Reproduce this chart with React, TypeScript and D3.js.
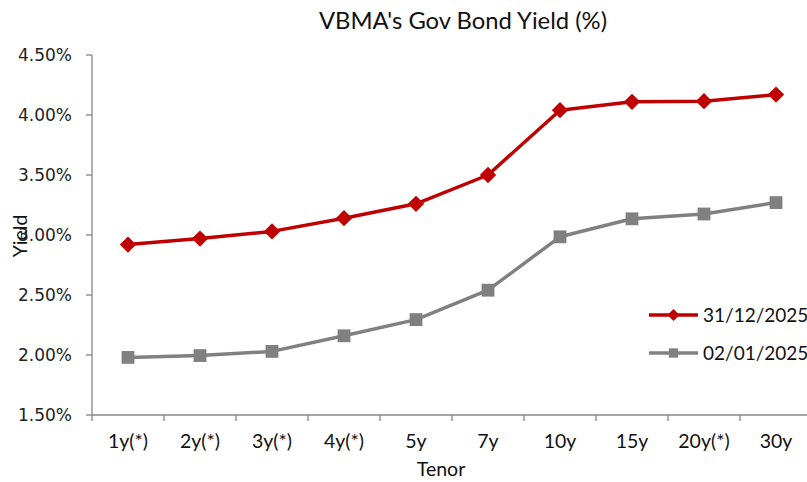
import { useEffect, useRef } from "react";
import * as d3 from "d3";

const tenors = ["1y(*)", "2y(*)", "3y(*)", "4y(*)", "5y", "7y", "10y", "15y", "20y(*)", "30y"];
const yield2025End = [2.92, 2.97, 3.03, 3.14, 3.26, 3.5, 4.04, 4.11, 4.115, 4.17];
const yield2025Start = [1.98, 1.995, 2.03, 2.16, 2.295, 2.54, 2.985, 3.135, 3.175, 3.27];
const yTicks = [1.5, 2.0, 2.5, 3.0, 3.5, 4.0, 4.5];

const series = [
  { name: "31/12/2025", values: yield2025End, color: "#C00000", marker: "diamond" },
  { name: "02/01/2025", values: yield2025Start, color: "#808080", marker: "square" },
];

const W = 807;
const H = 482;
const labelFont = "Lato, 'Open Sans', sans-serif";

export default function App() {
  const ref = useRef<SVGSVGElement>(null);

  useEffect(() => {
    const svg = d3.select(ref.current);
    svg.selectAll("*").remove();

    const left = 92;
    const step = 72;
    // Ось X: полосы по 72px, последняя уходит за край картинки
    const x = d3.scaleBand().domain(tenors).range([left, left + step * tenors.length]);
    const y = d3.scaleLinear().domain([1.5, 4.5]).range([415, 55]);
    const axisColor = "#868686";

    // Ось Y
    svg.append("line")
      .attr("x1", left).attr("x2", left)
      .attr("y1", y(4.5)).attr("y2", y(1.5))
      .attr("stroke", axisColor).attr("stroke-width", 1.3);
    svg.selectAll(".ytick")
      .data(yTicks)
      .enter()
      .append("line")
      .attr("x1", left - 6).attr("x2", left)
      .attr("y1", (d) => y(d)).attr("y2", (d) => y(d))
      .attr("stroke", axisColor).attr("stroke-width", 1.3);
    svg.selectAll(".ylab")
      .data(yTicks)
      .enter()
      .append("text")
      .attr("x", 72)
      .attr("y", (d) => y(d))
      .attr("dy", "0.36em")
      .attr("text-anchor", "end")
      .attr("font-family", "'DejaVu Sans', sans-serif")
      .attr("font-size", 17)
      .attr("fill", "#222")
      .text((d) => d3.format(".2f")(d) + "%");

    // Ось X
    svg.append("line")
      .attr("x1", left).attr("x2", W)
      .attr("y1", y(1.5)).attr("y2", y(1.5))
      .attr("stroke", axisColor).attr("stroke-width", 1.3);
    svg.selectAll(".xtick")
      .data(tenors)
      .enter()
      .append("line")
      .attr("x1", (d) => x(d)!).attr("x2", (d) => x(d)!)
      .attr("y1", y(1.5)).attr("y2", y(1.5) + 6)
      .attr("stroke", axisColor).attr("stroke-width", 1.3);
    svg.selectAll(".xlab")
      .data(tenors)
      .enter()
      .append("text")
      .attr("x", (d) => x(d)! + x.bandwidth() / 2)
      .attr("y", 448)
      .attr("text-anchor", "middle")
      .attr("font-family", labelFont)
      .attr("font-size", 19.5)
      .attr("fill", "#111")
      .text((d) => d);

    const cx = (i: number) => x(tenors[i])! + x.bandwidth() / 2;
    const line = d3.line<number>()
      .x((_, i) => cx(i))
      .y((d) => y(d));

    const diamond = d3.symbol().type(d3.symbolDiamond2);
    const square = d3.symbol().type(d3.symbolSquare2);

    series.forEach((s) => {
      svg.append("path")
        .attr("d", line(s.values))
        .attr("fill", "none")
        .attr("stroke", s.color)
        .attr("stroke-width", 3.5)
        .attr("stroke-linejoin", "round");
      svg.selectAll(".m-" + s.marker)
        .data(s.values)
        .enter()
        .append("path")
        .attr("transform", (d, i) => `translate(${cx(i)},${y(d)})`)
        .attr("d", s.marker === "diamond" ? diamond.size(170)() : square.size(210)())
        .attr("fill", s.color);
    });

    // Легенда
    const legY = [315, 353];
    series.forEach((s, i) => {
      const g = svg.append("g").attr("transform", `translate(649,${legY[i]})`);
      g.append("line")
        .attr("x1", 0).attr("x2", 49)
        .attr("stroke", s.color).attr("stroke-width", 3.5);
      g.append("path")
        .attr("transform", "translate(24.5,0)")
        .attr("d", s.marker === "diamond" ? diamond.size(90)() : square.size(110)())
        .attr("fill", s.color);
      g.append("text")
        .attr("x", 54)
        .attr("dy", "0.35em")
        .attr("font-family", labelFont)
        .attr("font-size", 19)
        .attr("fill", "#111")
        .text(s.name);
    });

    // Заголовки
    svg.append("text")
      .attr("x", 463).attr("y", 29)
      .attr("text-anchor", "middle")
      .attr("font-family", labelFont)
      .attr("font-size", 23.8)
      .attr("fill", "#111")
      .text("VBMA's Gov Bond Yield (%)");

    svg.append("text")
      .attr("x", 441).attr("y", 476)
      .attr("text-anchor", "middle")
      .attr("font-family", labelFont)
      .attr("font-size", 19.5)
      .attr("fill", "#111")
      .text("Tenor");

    svg.append("text")
      .attr("transform", "translate(27,236) rotate(-90)")
      .attr("text-anchor", "middle")
      .attr("font-family", labelFont)
      .attr("font-size", 19.5)
      .attr("fill", "#111")
      .text("Yield");
  }, []);

  return (
    <svg
      ref={ref}
      width={W}
      height={H}
      style={{ position: "absolute", left: 0, top: 0, background: "#fff" }}
    />
  );
}
